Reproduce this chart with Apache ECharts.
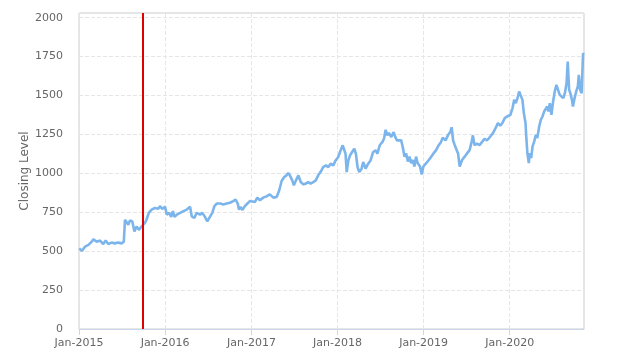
<!DOCTYPE html>
<html>
<head>
<meta charset="utf-8">
<script src="https://cdn.jsdelivr.net/npm/echarts@6/dist/echarts.min.js"></script>
<style>html,body{margin:0;padding:0;background:#fff}#c{width:624px;height:362px}</style>
</head>
<body>
<div id="c"></div>
<script>
const dates = [
'2015-01-02','2015-01-13','2015-01-27','2015-02-10','2015-02-24','2015-03-03','2015-03-17','2015-03-31','2015-04-14','2015-04-24',
'2015-05-05','2015-05-19','2015-06-02','2015-06-16','2015-07-01','2015-07-10','2015-07-15','2015-07-22','2015-07-29','2015-08-05',
'2015-08-15','2015-08-24','2015-09-02','2015-09-12','2015-09-23','2015-10-07','2015-10-14','2015-10-24','2015-11-05','2015-11-19',
'2015-12-03','2015-12-10','2015-12-20','2016-01-01','2016-01-08','2016-01-18','2016-01-27','2016-02-03','2016-02-10','2016-02-20',
'2016-03-05','2016-03-19','2016-04-02','2016-04-16','2016-04-23','2016-05-04','2016-05-14','2016-05-28','2016-06-07','2016-06-18',
'2016-06-28','2016-07-09','2016-07-19','2016-07-28','2016-08-07','2016-08-21','2016-09-04','2016-09-18','2016-10-02','2016-10-16',
'2016-10-26','2016-11-04','2016-11-09','2016-11-16','2016-11-23','2016-12-04','2016-12-15','2016-12-25',
'2017-01-02','2017-01-16','2017-01-26','2017-02-06','2017-02-20','2017-03-06','2017-03-20','2017-04-04','2017-04-18','2017-04-29',
'2017-05-09','2017-05-20','2017-05-30','2017-06-06','2017-06-13','2017-06-23','2017-06-30','2017-07-09','2017-07-19','2017-07-29',
'2017-08-09','2017-08-20','2017-08-30','2017-09-09','2017-09-20','2017-10-01','2017-10-11','2017-10-21','2017-11-01','2017-11-13',
'2017-11-23','2017-12-03','2017-12-14','2017-12-24','2018-01-04','2018-01-14','2018-01-23','2018-01-30','2018-02-04','2018-02-09',
'2018-02-16','2018-02-23','2018-03-04','2018-03-13','2018-03-20','2018-03-27','2018-04-03','2018-04-13','2018-04-20','2018-04-30',
'2018-05-11','2018-05-21','2018-06-01','2018-06-12','2018-06-19','2018-06-29','2018-07-10','2018-07-17','2018-07-24','2018-07-31',
'2018-08-07','2018-08-17','2018-08-27','2018-09-03','2018-09-10','2018-09-18','2018-09-28','2018-10-05','2018-10-12','2018-10-19',
'2018-10-26','2018-11-02','2018-11-09','2018-11-16','2018-11-23','2018-11-30','2018-12-07','2018-12-17','2018-12-24','2018-12-31',
'2019-01-12','2019-01-23','2019-02-02','2019-02-12','2019-02-23','2019-03-06','2019-03-16','2019-03-23','2019-04-04','2019-04-14',
'2019-04-24','2019-04-30','2019-05-06','2019-05-13','2019-05-20','2019-05-27','2019-06-03','2019-06-13','2019-06-24','2019-07-04',
'2019-07-15','2019-07-25','2019-07-29','2019-08-05','2019-08-15','2019-08-26','2019-09-06','2019-09-16','2019-09-26','2019-10-05',
'2019-10-22','2019-11-02','2019-11-12','2019-11-22','2019-12-01','2019-12-11','2019-12-21','2019-12-29',
'2020-01-04','2020-01-13','2020-01-20','2020-01-27','2020-02-03','2020-02-10','2020-02-17','2020-02-24','2020-03-01','2020-03-08',
'2020-03-12','2020-03-16','2020-03-22','2020-03-26','2020-04-01','2020-04-07','2020-04-14','2020-04-21','2020-04-27','2020-05-05',
'2020-05-12','2020-05-19','2020-05-26','2020-06-02','2020-06-08','2020-06-13','2020-06-19','2020-06-26','2020-07-03','2020-07-10',
'2020-07-17','2020-07-24','2020-07-31','2020-08-08','2020-08-15','2020-08-22','2020-08-29','2020-09-03','2020-09-09','2020-09-14',
'2020-09-21','2020-09-25','2020-10-02','2020-10-09','2020-10-16','2020-10-20','2020-10-26','2020-11-01','2020-11-07','2020-11-10'
];
const closes = [
518,502,529,540,561,576,561,568,546,568,
546,555,550,555,550,561,702,691,670,698,
691,626,659,637,659,680,702,746,767,778,
772,789,772,785,735,746,720,757,720,735,
746,757,767,785,724,713,746,735,746,720,
691,720,746,789,806,806,800,806,811,822,
832,806,767,785,765,789,806,822,
827,816,844,827,844,852,865,844,848,891,
951,976,987,1002,987,955,923,955,987,944,
929,934,944,934,944,955,987,1008,1040,1051,
1040,1062,1051,1083,1105,1147,1180,1190,1126,1008,
1083,1115,1137,1158,1126,1040,1008,1030,1073,1030,
1062,1083,1137,1147,1126,1180,1201,1222,1280,1244,
1259,1233,1265,1233,1212,1201,1212,1166,1107,1128,
1076,1107,1065,1086,1044,1107,1065,1044,992,1044,
1065,1086,1107,1128,1149,1181,1202,1229,1212,1244,
1265,1296,1212,1181,1170,1128,1044,1086,1107,1128,
1149,1212,1244,1181,1191,1181,1202,1222,1212,1225,
1258,1290,1323,1306,1323,1355,1365,1355,
1376,1419,1472,1451,1483,1526,1532,1472,1387,1323,
1216,1130,1066,1130,1098,1173,1205,1248,1227,1301,
1344,1365,1397,1408,1429,1397,1451,1376,1462,1526,
1568,1536,1504,1515,1483,1515,1579,1718,1536,1515,
1472,1429,1483,1526,1558,1632,1536,1515,1771,1765
];
const yTicks = [0,250,500,750,1000,1250,1500,1750,2000];
const markerDate = '2015-09-29';
const xMin = '2015-01-01';
const xMax = '2020-11-11';
const yTitle = 'Closing Level';
const monthNames = ['Jan','Feb','Mar','Apr','May','Jun','Jul','Aug','Sep','Oct','Nov','Dec'];

const chart = echarts.init(document.getElementById('c'), null, {renderer:'canvas'});
const YEAR = 365.25*24*3600*1000;
chart.setOption({
  animation:false,
  backgroundColor:'#ffffff',
  textStyle:{fontFamily:'DejaVu Sans'},
  grid:{left:79,right:40,top:13,bottom:33,show:true,borderColor:'#cccccc',borderWidth:1,containLabel:false},
  xAxis:{
    type:'time', min:xMin, max:xMax,
    minInterval:YEAR*0.98, maxInterval:YEAR*1.02,
    axisLine:{show:true,lineStyle:{color:'#ccd6eb',width:1}},
    axisTick:{show:true,length:6,lineStyle:{color:'#ccd6eb'}},
    axisLabel:{color:'#666666',fontSize:11,margin:9,
      formatter:function(v){const d=new Date(v); if(d.getMonth()===0 && d.getDate()===1) return monthNames[0]+'-'+d.getFullYear(); return '';}},
    splitLine:{show:true,lineStyle:{color:'#e6e6e6',type:'dashed',width:1}}
  },
  yAxis:{
    type:'value', min:0, max:2030, interval:250,
    name:yTitle, nameLocation:'middle', nameGap:48, nameRotate:90, nameMoveOverlap:false,
    nameTextStyle:{color:'#666666',fontSize:12},
    axisLine:{show:false}, axisTick:{show:false},
    axisLabel:{color:'#666666',fontSize:11,margin:16,showMaxLabel:false,
      formatter:function(v){return yTicks.indexOf(v)>=0 ? String(v) : '';}},
    splitLine:{show:true,lineStyle:{color:'#e6e6e6',type:'dashed',width:1}}
  },
  series:[{
    type:'line',
    data:dates.map((d,i)=>[d,closes[i]]),
    showSymbol:false, symbol:'none',
    lineStyle:{color:'#7cb5ec',width:2.6},
    itemStyle:{color:'#7cb5ec'},
    markLine:{
      silent:true, symbol:['none','none'],
      label:{show:false},
      lineStyle:{color:'#e00000',width:2,type:'solid'},
      data:[{xAxis:markerDate}]
    }
  }]
});
</script>
</body>
</html>
